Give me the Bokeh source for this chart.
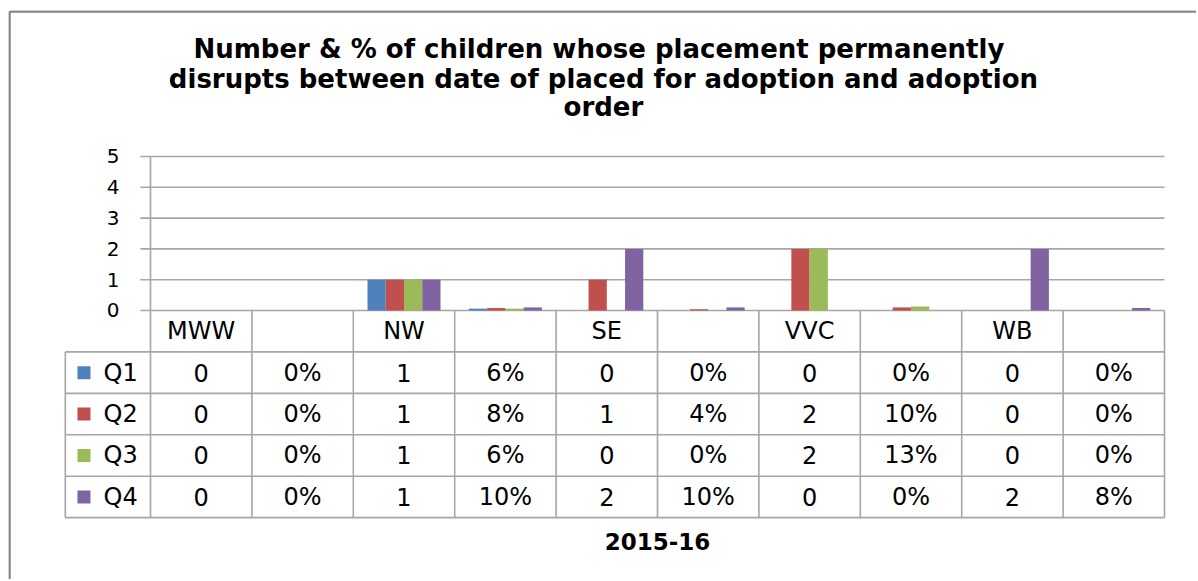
from bokeh.plotting import figure
from bokeh.models import ColumnDataSource, Range1d
from bokeh.core.properties import value
from bokeh.embed import file_html
from bokeh.resources import INLINE

# ---- data ----
categories = ["MWW", "", "NW", "", "SE", "", "VVC", "", "WB", ""]
is_pct = [False, True, False, True, False, True, False, True, False, True]
series_names = ["Q1", "Q2", "Q3", "Q4"]
q1 = [0, 0.00, 1, 0.06, 0, 0.00, 0, 0.00, 0, 0.00]
q2 = [0, 0.00, 1, 0.08, 1, 0.04, 2, 0.10, 0, 0.00]
q3 = [0, 0.00, 1, 0.06, 0, 0.00, 2, 0.13, 0, 0.00]
q4 = [0, 0.00, 1, 0.10, 2, 0.10, 0, 0.00, 2, 0.08]
y_ticks = [0, 1, 2, 3, 4, 5]
title_lines = ["Number & %  of children whose placement permanently",
               "disrupts between date of placed for adoption and adoption",
               "order"]
x_title = "2015-16"

# ---- styles ----
colors = ["#4F81BD", "#C0504D", "#9BBB59", "#8064A2"]
GRID = "#A6A6A6"
TXT = "#000000"
FONT = "DejaVu Sans"

W, H = 1196, 579
X0, X1 = -1.4004, 10.3156
Y0, Y1 = -8.734, 9.740
p = figure(width=W, height=H, output_backend="svg", toolbar_location=None,
           x_range=Range1d(X0, X1), y_range=Range1d(Y0, Y1),
           min_border=0, min_border_left=8, min_border_right=0,
           min_border_top=10, min_border_bottom=0)
p.xaxis.visible = False
p.yaxis.visible = False
p.xgrid.visible = False
p.ygrid.visible = False
p.outline_line_color = None
p.background_fill_color = "white"
p.border_fill_color = "white"

# chart-area border (left and top edges visible in the reference)
bx = X0 + 1.0 / 101.4
by = Y1 - 1.0 / 30.8
p.segment(x0=[bx, bx], x1=[bx, X1], y0=[Y0, by], y1=[by, by],
          line_color="#868686", line_width=2.5)

n = len(categories)
ymax = max(y_ticks)
row_h = 1.345
n_rows = len(series_names)
table_bottom = -row_h * (n_rows + 1)
leg_left = -0.84

# gridlines + ticks
p.segment(x0=[-0.1] * len(y_ticks), x1=[n] * len(y_ticks), y0=y_ticks, y1=y_ticks,
          line_color=GRID, line_width=1.6)
# tick labels
p.text(x=[-0.306] * len(y_ticks), y=y_ticks, text=[str(t) for t in y_ticks],
       text_align="right", text_baseline="middle", text_font=value(FONT),
       text_font_size="20px", text_color=TXT)

# bars
group_w = 0.72
bw = group_w / len(series_names)
for k, (vals, col) in enumerate(zip([q1, q2, q3, q4], colors)):
    off = -group_w / 2 + bw * (k + 0.5)
    src = ColumnDataSource(dict(x=[i + 0.5 + off for i in range(n)], top=vals))
    p.vbar(x="x", top="top", bottom=0, width=bw, source=src,
           fill_color=col, line_color=None)

# table vertical lines
vx = list(range(n + 1))
p.segment(x0=vx, x1=vx, y0=[ymax] * 1 + [0] * n, y1=[table_bottom] * (n + 1),
          line_color=GRID, line_width=1.6)
p.segment(x0=[leg_left], x1=[leg_left], y0=[-row_h], y1=[table_bottom],
          line_color=GRID, line_width=1.6)
# table horizontal lines
hy = [-row_h * (r + 1) for r in range(n_rows + 1)]
p.segment(x0=[leg_left] * len(hy), x1=[n] * len(hy), y0=hy, y1=hy,
          line_color=GRID, line_width=1.6)

# header labels
p.text(x=[i + 0.5 for i in range(n)], y=[-row_h / 2] * n, text=categories,
       text_align="center", text_baseline="middle", text_font=value(FONT),
       text_font_size="24px", text_color=TXT)

# table values
tx, ty, tt = [], [], []
for r, vals in enumerate([q1, q2, q3, q4]):
    for i, v in enumerate(vals):
        tx.append(i + 0.5)
        ty.append(-row_h * (r + 1.5))
        tt.append(f"{round(v * 100)}%" if is_pct[i] else f"{v:g}")
p.text(x=tx, y=ty, text=tt, text_align="center", text_baseline="middle",
       text_font=value(FONT), text_font_size="24px", text_color=TXT)

# legend keys
ly = [-row_h * (r + 1.5) for r in range(n_rows)]
p.scatter(x=[-0.656] * n_rows, y=ly, marker="square", size=13,
          fill_color=colors, line_color=None)
p.text(x=[-0.4635] * n_rows, y=ly, text=series_names, text_align="left",
       text_baseline="middle", text_font=value(FONT), text_font_size="24px",
       text_color=TXT)

# axis title
p.text(x=[n / 2], y=[-7.5], text=[x_title], text_align="center",
       text_baseline="middle", text_font=value(FONT), text_font_size="23px",
       text_font_style="bold", text_color=TXT)

# chart title
p.text(x=[4.467] * 3, y=[8.506, 7.532, 6.591], text=title_lines,
       text_align="center", text_baseline="middle", text_font=value(FONT),
       text_font_size="26px", text_font_style="bold", text_color=TXT)

open("out.html", "w").write(file_html(p, INLINE))
